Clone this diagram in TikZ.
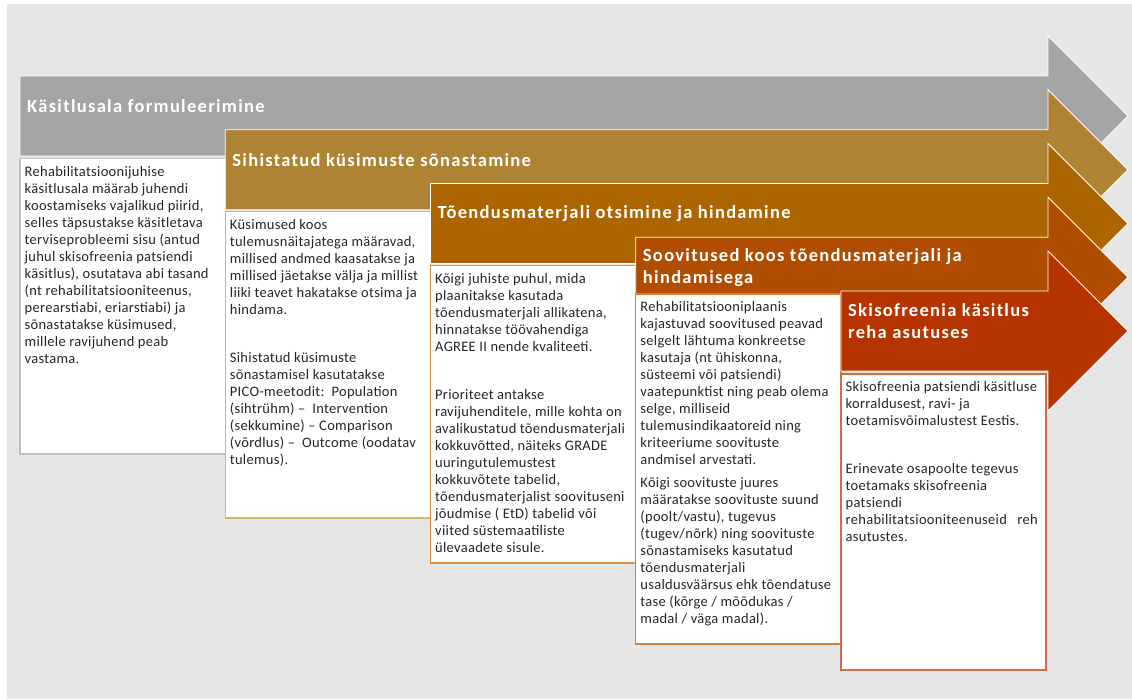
\documentclass[tikz,border=0pt]{standalone}
\usepackage{fontspec}
\setmainfont{Carlito}
\newfontfamily\headfont[LetterSpace=7]{Carlito}
\newfontfamily\notefont[LetterSpace=2]{Carlito}
\usepackage{tikz}

\definecolor{pagegray}{HTML}{E6E6E6}
\definecolor{scopegray}{HTML}{A5A5A5}
\definecolor{questgold}{HTML}{AE8434}
\definecolor{searchbrown}{HTML}{AC6500}
\definecolor{recorange}{HTML}{B14D00}
\definecolor{carered}{HTML}{B43500}
\definecolor{scopeline}{HTML}{BFBFBF}
\definecolor{questline}{HTML}{D8B46C}
\definecolor{searchline}{HTML}{D98E44}
\definecolor{recline}{HTML}{D6803E}
\definecolor{careline}{HTML}{D26C48}

\newcommand\boxtext[1]{\parbox[t]{200pt}{\raggedright #1}}

\tikzset{
  arrowbody/.style={draw=white, line width=0.8pt, line join=miter},
  infobox/.style={draw=#1, fill=white, line width=1.3pt},
  heading/.style={anchor=west, inner sep=0pt, text=white, align=left,
    font=\headfont\bfseries\fontsize{18.5}{22}\selectfont},
  bodytext/.style={anchor=base west, inner sep=0pt, text=black!85,
    font=\notefont\fontsize{14.5}{17}\selectfont}
}

\begin{document}
\begin{tikzpicture}[x=1pt,y=-1pt]
	\newcommand\stepx{205.25}
	\newcommand\stepy{53.75}
	\newcommand\halfbody{40}
	\newcommand\halfhead{80}
	\newcommand\headx{1048}
	\newcommand\tipx{1128}

	\useasboundingbox (0,0) rectangle (1132,699);
	\fill[pagegray] (7,4) rectangle (1132,699);

	% scope
	\draw[arrowbody, fill=scopegray] (20,76) -- (\headx,76) -- (\headx,76+\halfbody-\halfhead) -- (\tipx,76+\halfbody) -- (\headx,76+\halfbody+\halfhead) -- (\headx,76+2*\halfbody) -- (20,76+2*\halfbody) -- cycle;
	\node[heading] (headA) at (20+7,76+30) {Käsitlusala formuleerimine};
	\draw[infobox=scopeline] (20,158.5) rectangle (20+\stepx,454);
	\node[bodytext] (textA) at (20+4.5,158.5+18) {\boxtext{Rehabilitatsioonijuhise\\ käsitlusala määrab juhendi\\ koostamiseks vajalikud piirid,\\ selles täpsustakse käsitletava\\ terviseprobleemi sisu (antud\\ juhul skisofreenia patsiendi\\ käsitlus), osutatava abi tasand\\ (nt rehabilitatsiooniteenus,\\ perearstiabi, eriarstiabi) ja\\ sõnastatakse küsimused,\\ millele ravijuhend peab\\ vastama.}};

	% questions
	\draw[arrowbody, fill=questgold] (20+\stepx,76+\stepy) -- (\headx,76+\stepy) -- (\headx,76+\stepy+\halfbody-\halfhead) -- (\tipx,76+\stepy+\halfbody) -- (\headx,76+\stepy+\halfbody+\halfhead) -- (\headx,76+\stepy+2*\halfbody) -- (20+\stepx,76+\stepy+2*\halfbody) -- cycle;
	\node[heading] (headB) at (20+\stepx+7,76+\stepy+30) {Sihistatud küsimuste sõnastamine};
	\draw[infobox=questline] (20+\stepx,76+\stepy+2*\halfbody+2) rectangle (20+2*\stepx,518);
	\node[bodytext] (textB) at (20+\stepx+4.5,76+\stepy+2*\halfbody+2+18) {\boxtext{Küsimused koos\\ tulemusnäitajatega määravad,\\ millised andmed kaasatakse ja\\ millised jäetakse välja ja millist\\ liiki teavet hakatakse otsima ja\\ hindama.\\[31pt] Sihistatud küsimuste\\ sõnastamisel kasutatakse\\ PICO-meetodit:\ \ Population\\ (sihtrühm) –\ \ Intervention\\ (sekkumine) – Comparison\\ (võrdlus) –\ \ Outcome (oodatav\\ tulemus).}};

	% evidence search
	\draw[arrowbody, fill=searchbrown] (20+2*\stepx,76+2*\stepy) -- (\headx,76+2*\stepy) -- (\headx,76+2*\stepy+\halfbody-\halfhead) -- (\tipx,76+2*\stepy+\halfbody) -- (\headx,76+2*\stepy+\halfbody+\halfhead) -- (\headx,76+2*\stepy+2*\halfbody) -- (20+2*\stepx,76+2*\stepy+2*\halfbody) -- cycle;
	\node[heading] (headC) at (20+2*\stepx+7,76+2*\stepy+30) {Tõendusmaterjali otsimine ja hindamine};
	\draw[infobox=searchline] (20+2*\stepx,76+2*\stepy+2*\halfbody+2) rectangle (20+3*\stepx,563);
	\node[bodytext] (textC) at (20+2*\stepx+4.5,76+2*\stepy+2*\halfbody+2+18) {\boxtext{Kõigi juhiste puhul, mida\\ plaanitakse kasutada\\ tõendusmaterjali allikatena,\\ hinnatakse töövahendiga\\ AGREE II nende kvaliteeti.\\[31pt] Prioriteet antakse\\ ravijuhenditele, mille kohta on\\ avalikustatud tõendusmaterjali\\ kokkuvõtted, näiteks GRADE\\ uuringutulemustest\\ kokkuvõtete tabelid,\\ tõendusmaterjalist soovituseni\\ jõudmise ( EtD) tabelid või\\ viited süstemaatiliste\\ ülevaadete sisule.}};

	% recommendations
	\draw[arrowbody, fill=recorange] (20+3*\stepx,76+3*\stepy) -- (\headx,76+3*\stepy) -- (\headx,76+3*\stepy+\halfbody-\halfhead) -- (\tipx,76+3*\stepy+\halfbody) -- (\headx,76+3*\stepy+\halfbody+\halfhead) -- (\headx,76+3*\stepy+2*\halfbody) -- (20+3*\stepx,76+3*\stepy+2*\halfbody) -- cycle;
	\node[heading] (headD) at (20+3*\stepx+7,76+3*\stepy+30) {Soovitused koos tõendusmaterjali ja\\ hindamisega};
	\draw[infobox=recline] (20+3*\stepx,294) rectangle (20+4*\stepx,644);
	\node[bodytext] (textD) at (20+3*\stepx+4.5,294+17) {\boxtext{Rehabilitatsiooniplaanis\\ kajastuvad soovitused peavad\\ selgelt lähtuma konkreetse\\ kasutaja (nt ühiskonna,\\ süsteemi või patsiendi)\\ vaatepunktist ning peab olema\\ selge, milliseid\\ tulemusindikaatoreid ning\\ kriteeriume soovituste\\ andmisel arvestati.\\[6pt] Kõigi soovituste juures\\ määratakse soovituste suund\\ (poolt/vastu), tugevus\\ (tugev/nõrk) ning soovituste\\ sõnastamiseks kasutatud\\ tõendusmaterjali\\ usaldusväärsus ehk tõendatuse\\ tase (kõrge / mõõdukas /\\ madal / väga madal).}};

	% care in rehab institutions
	\draw[arrowbody, fill=carered] (20+4*\stepx,76+4*\stepy) -- (\headx,76+4*\stepy) -- (\headx,76+4*\stepy+\halfbody-\halfhead) -- (\tipx,76+4*\stepy+\halfbody) -- (\headx,76+4*\stepy+\halfbody+\halfhead) -- (\headx,76+4*\stepy+2*\halfbody) -- (20+4*\stepx,76+4*\stepy+2*\halfbody) -- cycle;
	\node[heading] (headE) at (20+4*\stepx+7,76+4*\stepy+30) {Skisofreenia käsitlus\\ reha asutuses};
	\draw[infobox=careline] (20+4*\stepx,76+4*\stepy+2*\halfbody+3) rectangle (1046,670);
	\node[bodytext] (textE) at (20+4*\stepx+4.5,76+4*\stepy+2*\halfbody+3+17) {\boxtext{Skisofreenia patsiendi käsitluse\\ korraldusest, ravi- ja\\ toetamisvõimalustest Eestis.\\[31pt] Erinevate osapoolte tegevus\\ toetamaks skisofreenia\\ patsiendi\\ rehabilitatsiooniteenuseid\hspace{7pt} reh\\ asutustes.}};
\end{tikzpicture}
\end{document}
